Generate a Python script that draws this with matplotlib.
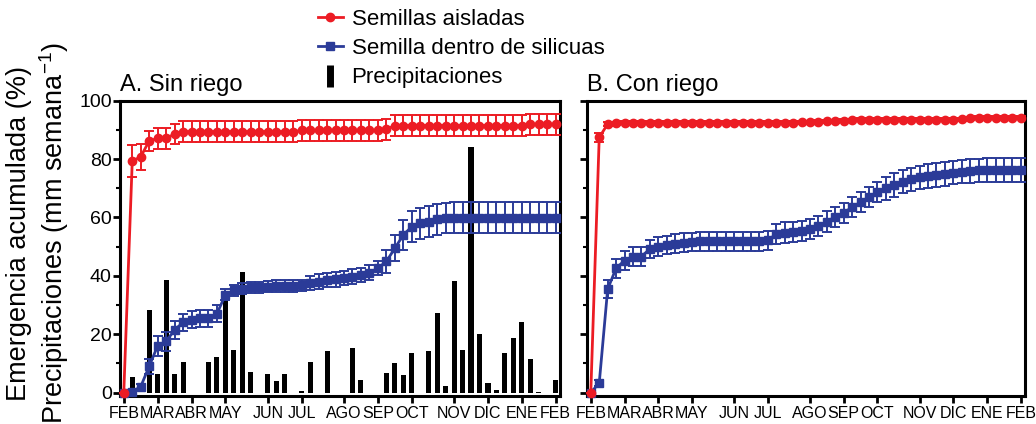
import matplotlib
matplotlib.use("Agg")  # headless
import matplotlib.pyplot as plt
from matplotlib.lines import Line2D

plt.rcParams['font.family'] = ['Liberation Sans', 'DejaVu Sans']
plt.rcParams['mathtext.fontset'] = 'custom'
plt.rcParams['mathtext.rm'] = 'Liberation Sans'
plt.rcParams['mathtext.it'] = 'Liberation Sans:italic'

RED = '#ec1c24'
BLUE = '#2b3b98'

# weeks since 1st of February
weeks = list(range(52))
month_ticks = [0, 4, 8, 12, 17, 21, 26, 30, 34, 39, 43, 47, 51]
month_labels = ["FEB", "MAR", "ABR", "MAY", "JUN", "JUL", "AGO",
                "SEP", "OCT", "NOV", "DIC", "ENE", "FEB"]

# A. Sin riego
red_a = [0, 79.3, 80.8, 86.2, 87.1, 87.1, 88.6,
         89.4, 89.4, 89.4, 89.4, 89.4, 89.4, 89.4, 89.4, 89.4, 89.4,
         89.4, 89.4, 89.4, 89.4, 89.8, 89.8, 89.8, 89.8, 89.8, 89.8,
         89.8, 89.8, 89.8, 89.8, 90.2, 91.5, 91.5, 91.5, 91.5, 91.5,
         91.5, 91.5, 91.5, 91.5, 91.5, 91.5, 91.5, 91.5, 91.5, 91.5,
         91.5, 91.9, 91.9, 91.9, 91.9]
red_a_err = [0, 5.5, 4.5, 3.5, 3.5, 3.5, 3.5,
             3.6, 3.6, 3.6, 3.6, 3.6, 3.6, 3.6, 3.6, 3.6, 3.6,
             3.6, 3.6, 3.6, 3.6, 3.6, 3.6, 3.6, 3.6, 3.6, 3.6,
             3.6, 3.6, 3.6, 3.6, 3.6, 3.6, 3.6, 3.6, 3.6, 3.6,
             3.6, 3.6, 3.6, 3.6, 3.6, 3.6, 3.6, 3.6, 3.6, 3.6,
             3.6, 3.6, 3.6, 3.6, 3.6]
blue_a = [0, 0.3, 2, 9, 16, 17.5, 21.5, 24, 25, 25.5, 25.5, 27,
          33.5, 35, 35.5, 36, 36, 36.3, 36.5, 36.5, 36.5, 36.8, 37.5,
          38, 38.6, 38.8, 39.2, 39.7, 40.3, 41.1, 42.6, 44.9, 49.4,
          54, 56.8, 58, 58.6, 59.4, 59.8, 59.9, 59.9, 59.9, 59.9,
          59.9, 59.9, 59.9, 59.9, 59.9, 59.9, 59.9, 59.9, 59.9]
blue_a_err = [0, 0.5, 1, 2.5, 3.4, 3.4, 3, 2.9, 2.9, 2.9, 2.9, 2.9,
              1.9, 1.9, 1.9, 1.9, 1.9, 1.9, 1.9, 1.9, 1.9, 1.9, 2.5,
              2.5, 2.5, 2.5, 2.5, 2.5, 2.5, 2.5, 2.5, 4, 4.5, 5,
              5.3, 5.3, 5.3, 5.3, 5.3, 5.3, 5.3, 5.3, 5.3, 5.3, 5.3,
              5.3, 5.3, 5.3, 5.3, 5.3, 5.3, 5.3]
rain = [0, 5.3, 0, 28.3, 6.3, 38.5, 6.3, 10.5, 0, 0, 10.3, 12.3,
        31.7, 14.6, 41.4, 7.2, 0, 6.2, 3.8, 6.2, 0, 0.5, 10.3, 0,
        14.2, 0, 0, 15.1, 4.3, 0, 0, 6.8, 10.0, 5.9, 13.7, 0, 14.2,
        27.2, 2.1, 38.2, 14.4, 84.2, 20.1, 3.2, 0.9, 13.5, 18.8, 24.1,
        11.4, 0.3, 0, 4.3]

# B. Con riego
red_b = [0, 87.4, 92.0, 92.3,
         92.4, 92.4, 92.4, 92.4, 92.4, 92.4, 92.4, 92.4, 92.4, 92.4,
         92.4, 92.4, 92.4, 92.4, 92.4, 92.4, 92.4, 92.4, 92.4, 92.4,
         92.5, 92.6, 92.6, 92.8, 92.9, 93.0, 93.2, 93.4,
         93.5, 93.5, 93.5, 93.5, 93.5, 93.5, 93.5, 93.5, 93.5, 93.5,
         93.5, 93.5, 93.7, 94.0, 94.1, 94.1, 94.1, 94.1, 94.1, 94.1]
red_b_err = [0, 1.5, 0.6, 0.5, 0.5, 0.5, 0.5, 0.5, 0.5, 0.5, 0.5, 0.5,
             0.5, 0.5, 0.5, 0.5, 0.5, 0.5, 0.5, 0.5, 0.5, 0.5, 0.5, 0.5,
             0.5, 0.5, 0.5, 0.5, 0.5, 0.5, 0.5, 0.5, 0.5, 0.5, 0.5, 0.5,
             0.5, 0.5, 0.5, 0.5, 0.5, 0.5, 0.5, 0.5, 0.5, 0.5, 0.5, 0.5,
             0.5, 0.5, 0.5, 0.5]
blue_b = [0, 3.2, 35.4, 42.6, 45.2, 46.6, 46.6, 49.2, 50, 50.5, 51,
          51.4, 51.6, 51.8, 51.8, 51.8, 51.8, 51.8, 51.8, 51.8, 51.8,
          52.2, 54.3, 54.8, 55, 55.3, 56, 57, 58.6, 60.2, 61.6, 63.5,
          65.3, 67, 68.7, 70, 71.1, 72.3, 73, 73.7, 74.2, 74.5, 74.9,
          75.3, 75.7, 75.9, 76.1, 76.3, 76.3, 76.3, 76.3, 76.3]
blue_b_err = [0, 1, 3, 3.2, 3.2, 3.2, 3.2, 3.2, 3.2, 3.2, 3.2, 3.2,
              3.2, 3.2, 3.2, 3.2, 3.2, 3.2, 3.2, 3.2, 3.2, 3.2, 3.5,
              3.5, 3.5, 3.5, 3.5, 3.5, 3.5, 3.5, 3.5, 3.5, 3.5, 3.5,
              3.5, 4, 4, 4, 4, 4, 4, 4, 4, 4, 4, 4, 4, 4, 4, 4, 4, 4]

fig = plt.figure(figsize=(10.36, 4.24), dpi=100)
ax_a = fig.add_axes([0.1158, 0.066, 0.4247, 0.6965])
ax_b = fig.add_axes([0.5666, 0.066, 0.4228, 0.6965])


def draw_series(ax, y, yerr, color, marker, ms, z):
    ax.errorbar(weeks, y, yerr=yerr, color=color, marker=marker, ms=ms,
                lw=2, elinewidth=1.4, capsize=3.5, capthick=1.4,
                zorder=z, clip_on=False)


ax_a.bar(weeks, rain, width=0.6, color='black', zorder=2)
draw_series(ax_a, blue_a, blue_a_err, BLUE, 's', 5.5, 3)
draw_series(ax_a, red_a, red_a_err, RED, 'o', 6, 4)

draw_series(ax_b, blue_b, blue_b_err, BLUE, 's', 5.5, 3)
draw_series(ax_b, red_b, red_b_err, RED, 'o', 6, 4)

for ax in (ax_a, ax_b):
    ax.set_xlim(-0.45, 51.5)
    ax.set_ylim(-1.2, 100)
    ax.set_xticks(month_ticks, month_labels)
    ax.set_yticks(range(0, 101, 20))
    ax.set_yticks(range(10, 100, 20), minor=True)
    ax.tick_params(axis='x', labelsize=11.5, length=5, width=2, pad=2)
    ax.tick_params(axis='y', which='major', labelsize=14, length=5,
                   width=2, pad=1)
    ax.tick_params(axis='y', which='minor', length=3, width=1.5)
    for sp in ax.spines.values():
        sp.set_linewidth(2.2)

ax_b.tick_params(axis='y', labelleft=False)

ax_a.set_title("A. Sin riego", loc='left', fontsize=17, pad=7)
ax_b.set_title("B. Con riego", loc='left', fontsize=17, pad=7)

fig.text(0.037, 0.45,
         "Emergencia acumulada (%)\nPrecipitaciones (mm semana$^{-1}$)",
         rotation=90, ha='center', va='center', fontsize=19.5)

handles = [
    Line2D([], [], color=RED, marker='o', ms=6, lw=2),
    Line2D([], [], color=BLUE, marker='s', ms=5.5, lw=2),
    Line2D([], [], color='black', marker='|', linestyle='None',
           markersize=16, markeredgewidth=5),
]
labels = ["Semillas aisladas", "Semilla dentro de silicuas",
          "Precipitaciones"]
fig.legend(handles, labels, loc='upper left',
           bbox_to_anchor=(316 / 1036, 0.985), frameon=False, fontsize=16,
           handlelength=1.1, handletextpad=0.4, labelspacing=0.38,
           borderaxespad=0, borderpad=0.1)

plt.savefig("out.png", dpi=100)
plt.close(fig)
